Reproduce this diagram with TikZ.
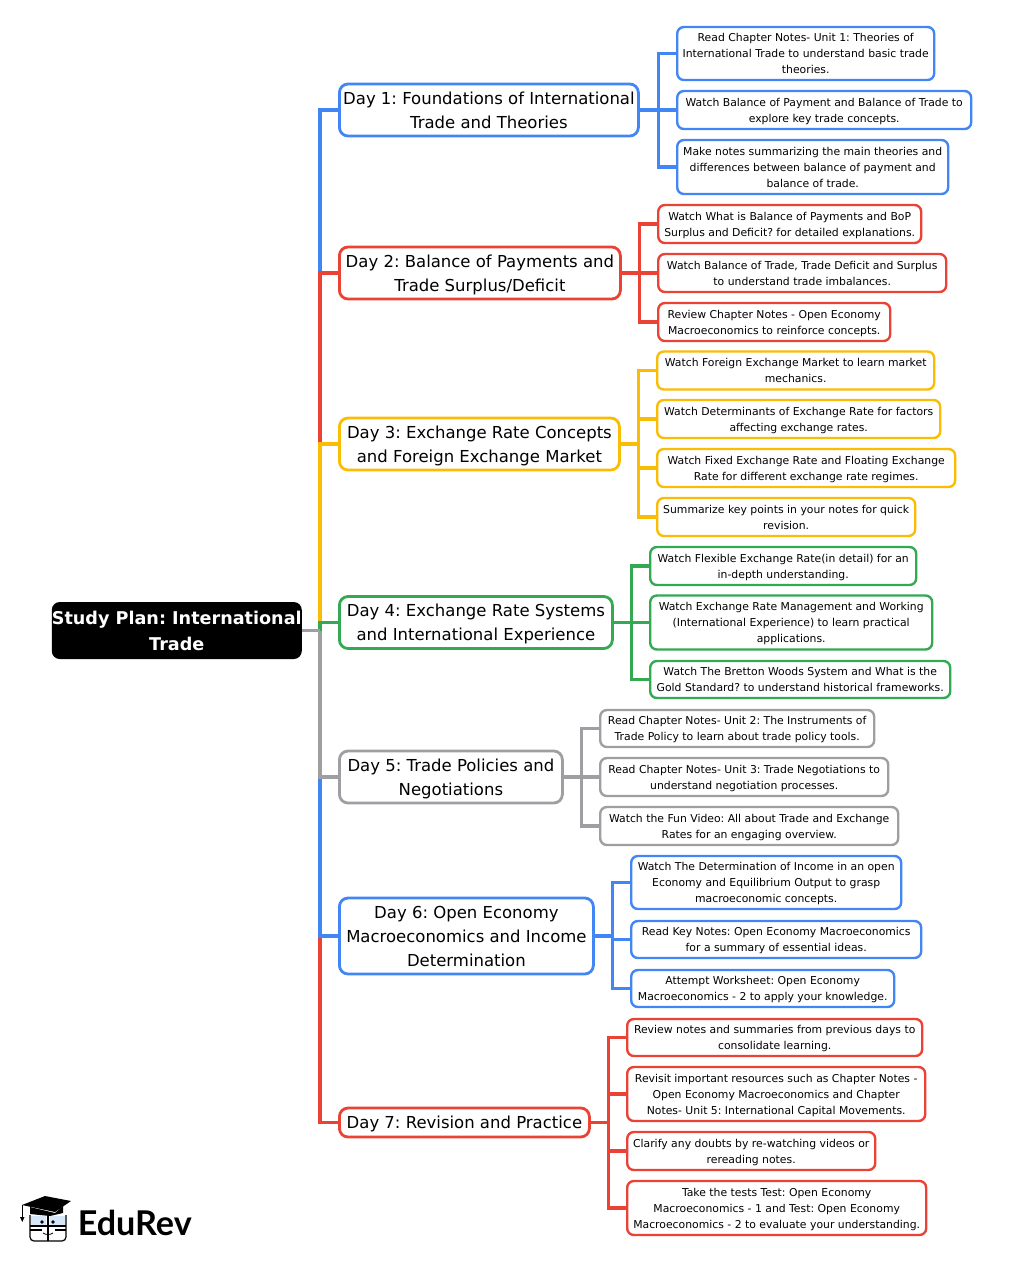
\documentclass[tikz,border=0pt]{standalone}
\usepackage{fontspec}
\setmainfont{DejaVu Sans}
\newfontfamily\logofont{Lato}
\frenchspacing
\definecolor{planblue}{HTML}{4285F4}
\definecolor{planred}{HTML}{EA4335}
\definecolor{planyellow}{HTML}{FBBC04}
\definecolor{plangreen}{HTML}{34A853}
\definecolor{plangrey}{HTML}{9E9EA3}
\definecolor{glass}{HTML}{D5E6F7}
\tikzset{
	box/.style 2 args={minimum width=#1*.75pt,minimum height=#2*.75pt},
	every node/.style={inner sep=0pt,align=center,anchor=west},
	root/.style={fill=black,text=white,rounded corners=6pt,font=\fontsize{13.2}{19.5}\selectfont\bfseries},
	day/.style={draw=#1,line width=2.1pt,fill=white,rounded corners=6.5pt,text depth=-.8pt,font=\fontsize{12.37}{18}\selectfont},
	leaf/.style={draw=#1,line width=1.8pt,fill=white,rounded corners=5pt,text depth=0pt,font=\fontsize{8.13}{12}\selectfont},
	link/.style={draw=#1,line width=2.5pt},
}
\begin{document}
\begin{tikzpicture}[x=.75pt,y=-.75pt]
\useasboundingbox (0,0) rectangle (1024,1261);
\coordinate (trunk) at (320,630.5);
\node[root,box={250}{57}] (plan) at (51.5,630.5) {Study Plan: International\\Trade};
\node[day=planblue,box={299}{52}] (day1) at (338,110) {Day 1: Foundations of International\\Trade and Theories};
\node[day=planred,box={281}{52}] (day2) at (338,273) {Day 2: Balance of Payments and\\Trade Surplus/Deficit};
\node[day=planyellow,box={280}{52}] (day3) at (338,444) {Day 3: Exchange Rate Concepts\\and Foreign Exchange Market};
\node[day=plangreen,box={273}{52}] (day4) at (338,622.5) {Day 4: Exchange Rate Systems\\and International Experience};
\node[day=plangrey,box={223}{52}] (day5) at (338,777) {Day 5: Trade Policies and\\Negotiations};
\node[day=planblue,box={254}{76}] (day6) at (338,936) {Day 6: Open Economy\\Macroeconomics and Income\\Determination};
\node[day=planred,box={250}{29}] (day7) at (338,1122.5) {Day 7: Revision and Practice};

\node[leaf=planblue,box={257}{53}] (read1) at (676,53.5) {Read Chapter Notes- Unit 1: Theories of\\International Trade to understand basic trade\\theories.};
\node[leaf=planblue,box={294}{38}] (watch1) at (676,110) {Watch Balance of Payment and Balance of Trade to\\explore key trade concepts.};
\node[leaf=planblue,box={271}{54}] (notes1) at (676,167) {Make notes summarizing the main theories and\\differences between balance of payment and\\balance of trade.};

\node[leaf=planred,box={263}{38}] (bop2) at (657,224) {Watch What is Balance of Payments and BoP\\Surplus and Deficit? for detailed explanations.};
\node[leaf=planred,box={288}{38}] (deficit2) at (657,273) {Watch Balance of Trade, Trade Deficit and Surplus\\to understand trade imbalances.};
\node[leaf=planred,box={232}{38}] (review2) at (657,322) {Review Chapter Notes - Open Economy\\Macroeconomics to reinforce concepts.};

\node[leaf=planyellow,box={277}{38}] (market3) at (656,370.5) {Watch Foreign Exchange Market to learn market\\mechanics.};
\node[leaf=planyellow,box={283}{38}] (rate3) at (656,419) {Watch Determinants of Exchange Rate for factors\\affecting exchange rates.};
\node[leaf=planyellow,box={298}{38}] (fixed3) at (656,468) {Watch Fixed Exchange Rate and Floating Exchange\\Rate for different exchange rate regimes.};
\node[leaf=planyellow,box={258}{38}] (points3) at (656,517) {Summarize key points in your notes for quick\\revision.};

\node[leaf=plangreen,box={266}{38}] (flex4) at (649,566) {Watch Flexible Exchange Rate(in detail) for an\\in-depth understanding.};
\node[leaf=plangreen,box={282}{54}] (manage4) at (649,622.5) {Watch Exchange Rate Management and Working\\(International Experience) to learn practical\\applications.};
\node[leaf=plangreen,box={300}{37}] (gold4) at (649,679.5) {Watch The Bretton Woods System and What is the\\Gold Standard? to understand historical frameworks.};

\node[leaf=plangrey,box={274}{37}] (read5) at (599,728.5) {Read Chapter Notes- Unit 2: The Instruments of\\Trade Policy to learn about trade policy tools.};
\node[leaf=plangrey,box={288}{38}] (nego5) at (599,777) {Read Chapter Notes- Unit 3: Trade Negotiations to\\understand negotiation processes.};
\node[leaf=plangrey,box={298}{38}] (video5) at (599,826) {Watch the Fun Video: All about Trade and Exchange\\Rates for an engaging overview.};

\node[leaf=planblue,box={270}{53}] (income6) at (630,882.5) {Watch The Determination of Income in an open\\Economy and Equilibrium Output to grasp\\macroeconomic concepts.};
\node[leaf=planblue,box={290}{37}] (key6) at (630,939.5) {Read Key Notes: Open Economy Macroeconomics\\for a summary of essential ideas.};
\node[leaf=planblue,box={263}{37}] (sheet6) at (630,988.5) {Attempt Worksheet: Open Economy\\Macroeconomics - 2 to apply your knowledge.};

\node[leaf=planred,box={295}{37}] (sum7) at (626,1037.5) {Review notes and summaries from previous days to\\consolidate learning.};
\node[leaf=planred,box={298}{54}] (res7) at (626,1094) {Revisit important resources such as Chapter Notes -\\Open Economy Macroeconomics and Chapter\\Notes- Unit 5: International Capital Movements.};
\node[leaf=planred,box={248}{38}] (doubt7) at (626,1151) {Clarify any doubts by re-watching videos or\\rereading notes.};
\node[leaf=planred,box={299}{54}] (test7) at (626,1208) {Take the tests Test: Open Economy\\Macroeconomics - 1 and Test: Open Economy\\Macroeconomics - 2 to evaluate your understanding.};

% trunk, later colours lie over earlier ones
\foreach \d/\c in {day1/planblue,day2/planred,day3/planyellow,day4/plangreen,day7/planred,day6/planblue,day5/plangrey}
	\draw[link=\c] (trunk) |- (\d.west);
\draw[link=plangrey] (plan.east) -- (trunk);
% branches
\foreach \k in {read1,watch1,notes1}
	\draw[link=planblue] (day1.east) -- ++(19,0) |- (\k.west);
\foreach \k in {bop2,deficit2,review2}
	\draw[link=planred] (day2.east) -- ++(18,0) |- (\k.west);
\foreach \k in {market3,rate3,fixed3,points3}
	\draw[link=planyellow] (day3.east) -- ++(18,0) |- (\k.west);
\foreach \k in {flex4,manage4,gold4}
	\draw[link=plangreen] (day4.east) -- ++(18,0) |- (\k.west);
\foreach \k in {read5,nego5,video5}
	\draw[link=plangrey] (day5.east) -- ++(18,0) |- (\k.west);
\foreach \k in {income6,key6,sheet6}
	\draw[link=planblue] (day6.east) -- ++(18,0) |- (\k.west);
\foreach \k in {sum7,res7,doubt7,test7}
	\draw[link=planred] (day7.east) -- ++(18,0) |- (\k.west);

% logo
\fill[black] (22,1205) -- (45,1196) -- (71,1201) -- (55,1212) -- cycle;
\fill[black] (30,1207) -- (55,1213) -- (63,1206) -- (63,1213) -- (50,1216) -- (30,1214) -- cycle;
\draw[black,line width=.6pt] (22,1205) -- (22,1218);
\fill[black] (20,1217) -- (24.5,1217) -- (22.3,1222) -- cycle;
\fill[glass] (31,1216) rectangle (46,1225) (50,1216) rectangle (65,1225);
\draw[black,line width=.9pt,rounded corners=3pt] (30,1215) -- (30,1241) -- (66,1241) -- (66,1215);
\draw[black,line width=.8pt,rounded corners=2pt] (30,1226) -- (66,1226);
\draw[black,line width=.8pt] (48,1215) -- (48,1241) (30,1230) -- (42,1230) (55,1230) -- (66,1230);
\fill[black] (42,1222) circle (1.8) (53,1222) circle (1.8);
\draw[black,line width=.6pt] (43,1233) .. controls (46,1235) and (50,1235) .. (53,1233);
\node[font=\logofont\bfseries\fontsize{25.6}{25.6}\selectfont,anchor=base west] (brand) at (77.5,1235) {EduRev};
\end{tikzpicture}
\end{document}
